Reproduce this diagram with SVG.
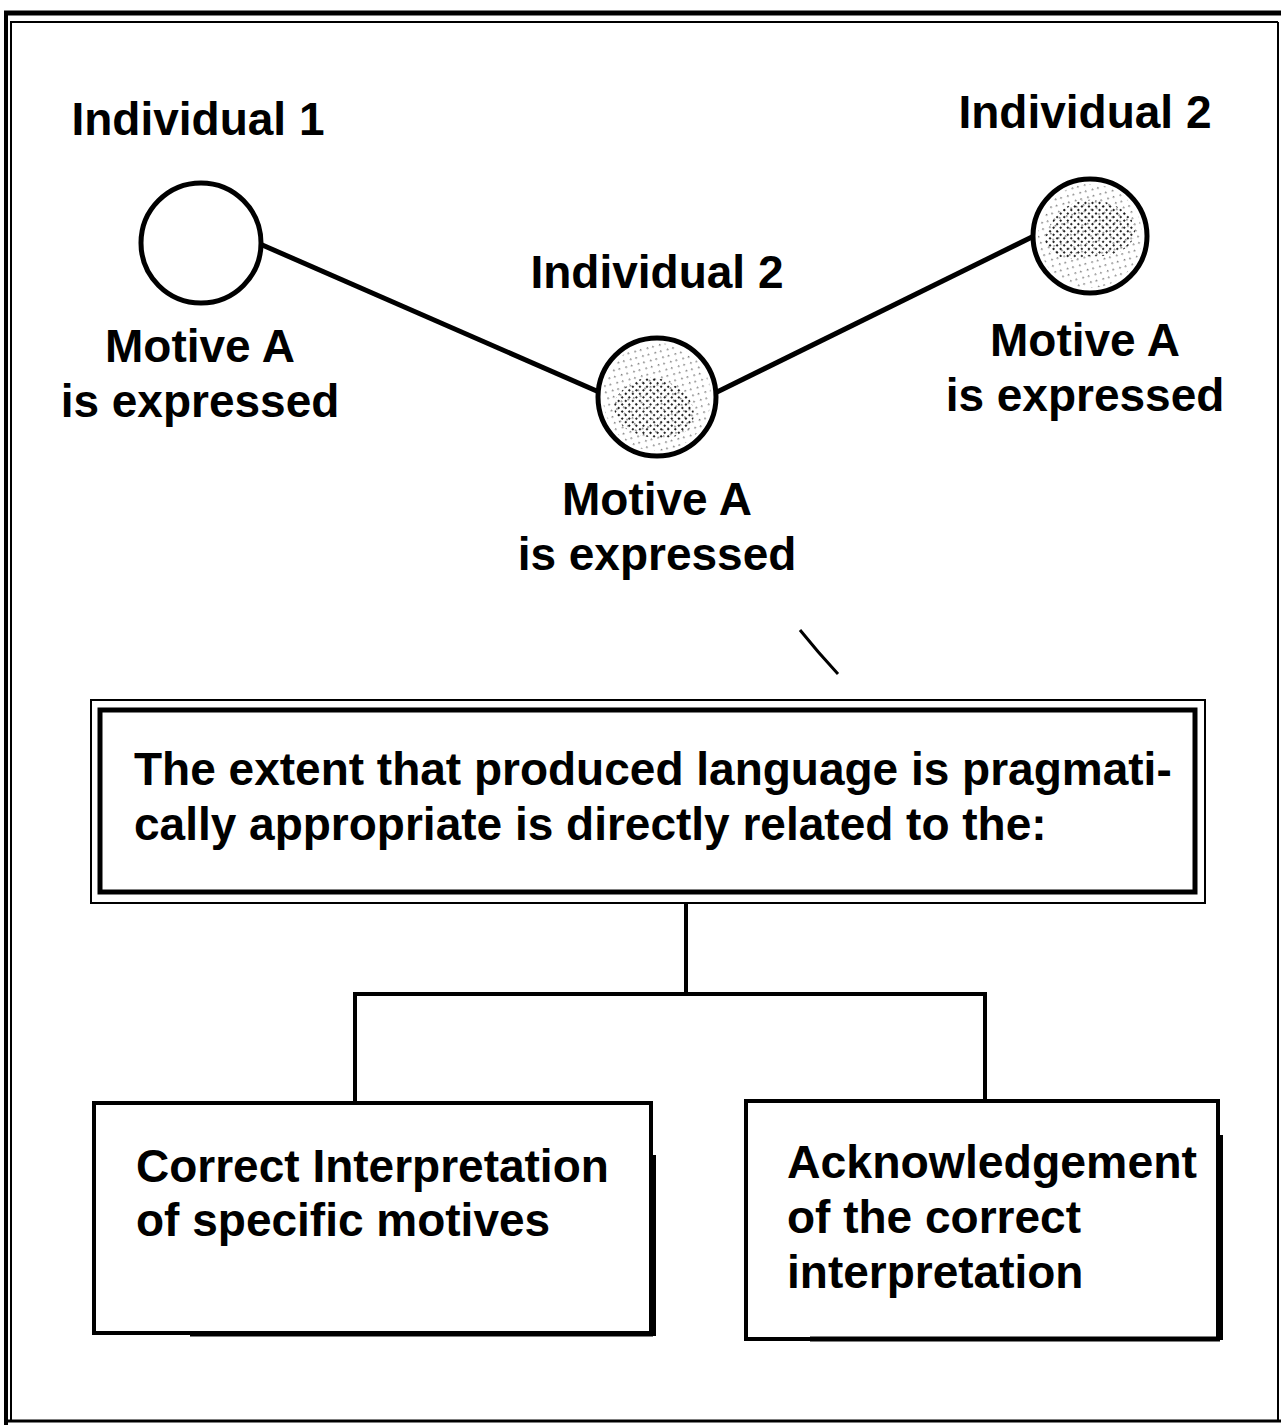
<svg xmlns="http://www.w3.org/2000/svg" width="1281" height="1425" viewBox="0 0 1281 1425">
<style>
  text { font-family: "Liberation Sans", Arial, Helvetica, sans-serif; font-weight: bold; font-size: 46px; fill: #000; }
  .c { text-anchor: middle; }
  .ln { stroke: #000; fill: none; }
  .node { fill: #fff; stroke: #000; stroke-width: 5; }
</style>
<defs>
  <pattern id="stip" width="5" height="5" patternUnits="userSpaceOnUse" patternTransform="rotate(45)">
    <rect x="0" y="0" width="2" height="2" fill="#000"/>
  </pattern>
  <pattern id="stip2" width="9" height="9" patternUnits="userSpaceOnUse" patternTransform="rotate(30)">
    <rect x="0" y="0" width="1.6" height="1.6" fill="#000"/>
    <rect x="5" y="4" width="1.6" height="1.6" fill="#000"/>
  </pattern>
</defs>
<rect x="0" y="0" width="1281" height="1425" fill="#fff"/>

<g id="frame">
  <line class="ln" x1="4" y1="13" x2="1281" y2="13" stroke-width="5"/>
  <line class="ln" x1="10" y1="22" x2="1278" y2="22" stroke-width="2"/>
  <line class="ln" x1="6" y1="11" x2="6" y2="1425" stroke-width="4"/>
  <line class="ln" x1="11" y1="22" x2="11" y2="1420" stroke-width="2"/>
  <line class="ln" x1="1278" y1="22" x2="1278" y2="1422" stroke-width="2"/>
  <line class="ln" x1="6" y1="1421" x2="1281" y2="1421" stroke-width="3"/>
</g>

<g id="connectors">
  <line class="ln" x1="260" y1="244" x2="599" y2="392" stroke-width="5"/>
  <line class="ln" x1="715" y1="393" x2="1034" y2="236" stroke-width="5"/>
  <path class="ln" d="M800,630 C812,645 825,660 838,674" stroke-width="3"/>
  <line class="ln" x1="686" y1="904" x2="686" y2="994" stroke-width="4"/>
  <line class="ln" x1="354" y1="994" x2="987" y2="994" stroke-width="4"/>
  <line class="ln" x1="355" y1="992" x2="355" y2="1102" stroke-width="4"/>
  <line class="ln" x1="985" y1="992" x2="985" y2="1102" stroke-width="4"/>
</g>

<g id="individual1">
  <text class="c" x="198" y="135">Individual 1</text>
  <circle class="node" cx="201" cy="243" r="60"/>
  <text class="c" x="200" y="362">Motive A</text>
  <text class="c" x="200" y="417">is expressed</text>
</g>

<g id="individual2-mid">
  <text class="c" x="657" y="288">Individual 2</text>
  <circle class="node" cx="657" cy="397" r="59"/>
  <path d="M618,395 C630,380 650,372 668,382 C690,392 700,410 690,428 C675,442 650,440 632,432 C615,425 610,405 618,395 Z" fill="url(#stip)" opacity="0.85"/>
  <circle cx="657" cy="397" r="54" fill="url(#stip2)" opacity="0.5"/>
  <text class="c" x="657" y="515">Motive A</text>
  <text class="c" x="657" y="570">is expressed</text>
</g>

<g id="individual2-right">
  <text class="c" x="1085" y="128">Individual 2</text>
  <circle class="node" cx="1090" cy="236" r="57"/>
  <path d="M1045,240 C1050,215 1070,198 1095,200 C1118,203 1135,215 1135,232 C1133,250 1112,258 1090,256 C1068,262 1048,258 1045,240 Z" fill="url(#stip)" opacity="0.85"/>
  <circle cx="1090" cy="236" r="52" fill="url(#stip2)" opacity="0.5"/>
  <text class="c" x="1085" y="356">Motive A</text>
  <text class="c" x="1085" y="411">is expressed</text>
</g>

<g id="main-box">
  <rect x="91" y="700" width="1114" height="203" fill="#fff" stroke="#000" stroke-width="2"/>
  <rect x="100" y="710" width="1095" height="182" fill="none" stroke="#000" stroke-width="5"/>
  <text x="134" y="785">The extent that produced language is pragmati-</text>
  <text x="134" y="840">cally appropriate is directly related to the:</text>
</g>

<g id="box-left">
  <rect x="94" y="1103" width="557" height="230" fill="#fff" stroke="#000" stroke-width="4"/>
  <line class="ln" x1="653" y1="1155" x2="653" y2="1336" stroke-width="6"/>
  <line class="ln" x1="190" y1="1334" x2="653" y2="1334" stroke-width="5"/>
  <text x="136" y="1182">Correct Interpretation</text>
  <text x="136" y="1236">of specific motives</text>
</g>

<g id="box-right">
  <rect x="746" y="1101" width="472" height="238" fill="#fff" stroke="#000" stroke-width="4"/>
  <line class="ln" x1="1220" y1="1135" x2="1220" y2="1340" stroke-width="6"/>
  <line class="ln" x1="810" y1="1339" x2="1220" y2="1339" stroke-width="5"/>
  <text x="787" y="1178" textLength="410" lengthAdjust="spacingAndGlyphs">Acknowledgement</text>
  <text x="787" y="1233">of the correct</text>
  <text x="787" y="1288">interpretation</text>
</g>
</svg>
